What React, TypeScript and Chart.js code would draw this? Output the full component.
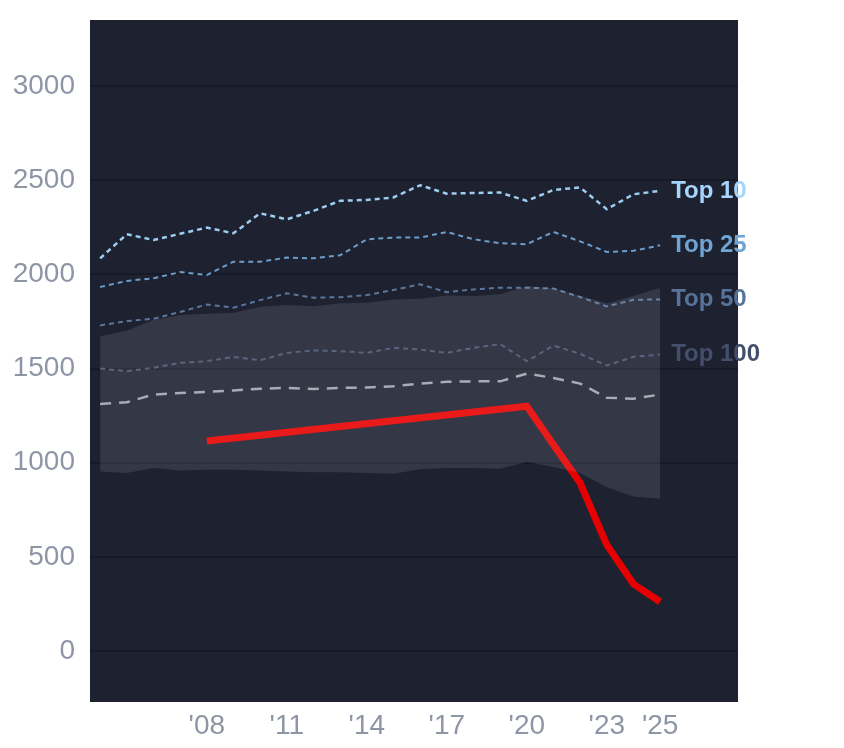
import { useEffect, useRef } from "react";
import { Chart, registerables } from "chart.js";

Chart.register(...registerables);

const years = [
  2004, 2005, 2006, 2007, 2008, 2009, 2010, 2011, 2012, 2013, 2014,
  2015, 2016, 2017, 2018, 2019, 2020, 2021, 2022, 2023, 2024, 2025,
];

const top10 = [
  2085, 2213, 2182, 2215, 2248, 2218, 2324, 2292, 2337, 2390, 2395,
  2408, 2473, 2428, 2432, 2434, 2390, 2448, 2461, 2346, 2425, 2443,
];
const top25 = [
  1933, 1965, 1979, 2012, 1996, 2067, 2067, 2089, 2085, 2101, 2186,
  2195, 2195, 2225, 2186, 2165, 2160, 2225, 2175, 2119, 2125, 2154,
];
const top50 = [
  1729, 1752, 1764, 1800, 1840, 1823, 1863, 1899, 1876, 1879, 1890,
  1917, 1947, 1905, 1920, 1929, 1929, 1925, 1880, 1830, 1865, 1867,
];
const top100 = [
  1500, 1486, 1504, 1530, 1539, 1562, 1544, 1583, 1596, 1592, 1583,
  1610, 1601, 1583, 1610, 1630, 1539, 1622, 1578, 1516, 1562, 1574,
];
const median = [
  1312, 1321, 1362, 1370, 1376, 1384, 1393, 1397, 1392, 1397, 1399,
  1406, 1420, 1430, 1432, 1432, 1473, 1450, 1420, 1345, 1340, 1362,
];
const bandUpper = [
  1672, 1700, 1757, 1784, 1791, 1796, 1828, 1837, 1831, 1846, 1849,
  1867, 1871, 1888, 1885, 1894, 1938, 1926, 1885, 1846, 1885, 1929,
];
const bandLower = [
  954, 945, 972, 959, 963, 963, 959, 954, 950, 950, 945,
  941, 966, 972, 972, 968, 1004, 977, 945, 870, 821, 809,
];
const highlight = [
  null, null, null, null, 1115, null, null, null, null, null, null,
  null, null, null, null, null, 1300, 1095, 892, 564, 356, 262,
];

const xTicks = [2008, 2011, 2014, 2017, 2020, 2023, 2025];
const yTicks = [0, 500, 1000, 1500, 2000, 2500, 3000];

const FONT = "'Liberation Sans', Arial, Helvetica, sans-serif";
const TICK_COLOR = "#8e96a5";

const pts = (arr: (number | null)[]) => years.map((x, i) => ({ x, y: arr[i] }));

const plotBg = {
  id: "plotBg",
  beforeDraw(c: any) {
    const { ctx, chartArea: a } = c;
    ctx.save();
    ctx.fillStyle = "#1d2130";
    ctx.fillRect(a.left, a.top, a.right - a.left, a.bottom - a.top);
    ctx.restore();
  },
};

const endLabels = {
  id: "endLabels",
  afterDatasetsDraw(c: any) {
    const { ctx } = c;
    c.data.datasets.forEach((ds: any, i: number) => {
      if (!ds.endLabel) return;
      const meta = c.getDatasetMeta(i);
      const last = meta.data[meta.data.length - 1];
      if (!last) return;
      ctx.save();
      ctx.font = `bold 24px ${FONT}`;
      ctx.fillStyle = ds.labelColor;
      ctx.textAlign = "left";
      ctx.textBaseline = "middle";
      ctx.fillText(ds.endLabel, last.x + 11, last.y);
      ctx.restore();
    });
  },
};

export default function App() {
  const canvasRef = useRef<HTMLCanvasElement | null>(null);

  useEffect(() => {
    const el = canvasRef.current;
    if (!el) return;

    const dotted = (data: number[], color: string, label: string, labelColor: string, width = 2) => ({
      data: pts(data),
      borderColor: color,
      borderWidth: width,
      borderDash: [5, 4],
      pointRadius: 0,
      fill: false,
      endLabel: label,
      labelColor,
    });

    const c = new Chart(el, {
      type: "line",
      data: {
        datasets: [
          { data: pts(bandLower), borderWidth: 0, borderColor: "transparent", pointRadius: 0, fill: false },
          {
            data: pts(bandUpper),
            borderWidth: 0,
            borderColor: "transparent",
            pointRadius: 0,
            fill: "-1",
            backgroundColor: "rgba(255,255,255,0.1)",
          },
          dotted(top100, "#475470", "Top 100", "#434f6b"),
          dotted(top50, "#5a769c", "Top 50", "#58739a"),
          dotted(top25, "#6d9dcb", "Top 25", "#70a5d3"),
          dotted(top10, "#9dcdf0", "Top 10", "#a6d5fb", 2.5),
          {
            data: pts(median),
            borderColor: "#9ea3ad",
            borderWidth: 2.5,
            borderDash: [11, 8],
            pointRadius: 0,
            fill: false,
          },
          {
            data: pts(highlight),
            borderColor: "#e60000",
            borderWidth: 7,
            pointRadius: 0,
            spanGaps: true,
            fill: false,
          },
        ] as any,
      },
      options: {
        animation: false,
        responsive: true,
        maintainAspectRatio: false,
        layout: { padding: { top: 12, right: 98, left: 0, bottom: 0 } },
        elements: { line: { tension: 0 } },
        plugins: { legend: { display: false }, tooltip: { enabled: false } },
        scales: {
          x: {
            type: "linear",
            min: 2003.62,
            max: 2027.92,
            grid: { display: false, drawTicks: false },
            border: { display: false },
            ticks: {
              color: TICK_COLOR,
              font: { family: FONT, size: 28 },
              padding: 7,
              autoSkip: false,
              maxRotation: 0,
              callback: (v: any) => "'" + String(v).slice(2),
            },
            afterBuildTicks: (s: any) => {
              s.ticks = xTicks.map((value) => ({ value }));
            },
            afterFit: (s: any) => {
              s.height = 38;
              s.paddingLeft = 0;
              s.paddingRight = 0;
            },
          },
          y: {
            min: -270,
            max: 3350,
            grid: { color: "#161a25", lineWidth: 2, drawTicks: false },
            border: { display: false },
            ticks: {
              color: TICK_COLOR,
              font: { family: FONT, size: 28 },
              padding: 15,
              callback: (v: any) => String(v),
            },
            afterBuildTicks: (s: any) => {
              s.ticks = yTicks.map((value) => ({ value }));
            },
            afterFit: (s: any) => {
              s.width = 82;
              s.paddingTop = 0;
              s.paddingBottom = 0;
            },
          },
        },
      },
      plugins: [plotBg, endLabels],
    });

    return () => c.destroy();
  }, []);

  return (
    <div style={{ position: "relative", width: "100%", height: 732 }}>
      <canvas ref={canvasRef} />
    </div>
  );
}
